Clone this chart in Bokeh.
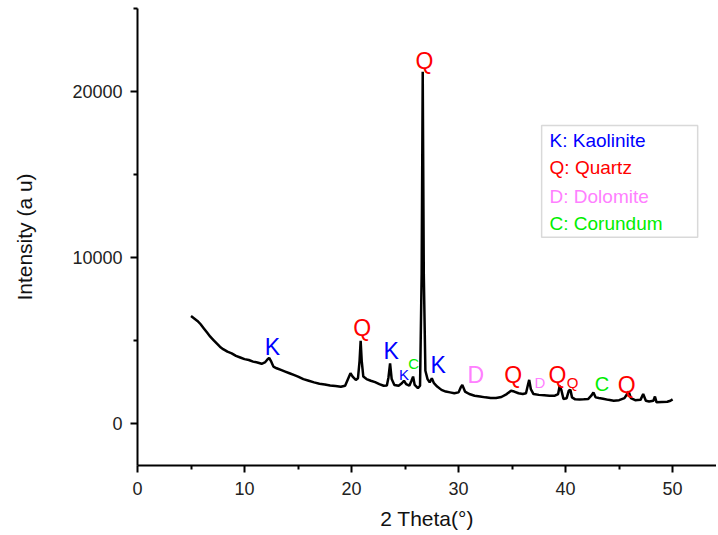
from bokeh.plotting import figure
from bokeh.models import ColumnDataSource, FixedTicker, BoxAnnotation, Label, Range1d
from bokeh.core.properties import value
from bokeh.embed import file_html
from bokeh.resources import INLINE

# XRD pattern (2 theta, intensity)
two_theta = [5.0, 5.3, 5.6, 5.9, 6.2, 6.5, 6.8, 7.1, 7.4, 7.7, 8.0, 8.4, 8.8, 9.2, 9.6,
             10.0, 10.4, 10.8, 11.2, 11.6, 11.9, 12.1, 12.3, 12.5, 12.7, 13.0, 13.4, 13.8,
             14.2, 14.6, 15.0, 15.5, 16.0, 16.5, 17.0, 17.5, 18.0, 18.5, 19.0, 19.4, 19.7,
             19.9, 20.1, 20.4, 20.6, 20.75, 20.85, 20.95, 21.1, 21.4, 21.8, 22.2, 22.6,
             23.0, 23.3, 23.45, 23.6, 23.75, 24.0, 24.4, 24.7, 24.9, 25.1, 25.4, 25.6,
             25.75, 25.9, 26.2, 26.4, 26.55, 26.65, 26.75, 26.9, 27.1, 27.3, 27.5, 27.7,
             28.0, 28.4, 28.8, 29.2, 29.6, 30.0, 30.2, 30.35, 30.6, 31.0, 31.5, 32.0,
             32.5, 33.0, 33.5, 34.0, 34.5, 34.9, 35.2, 35.6, 36.0, 36.3, 36.5, 36.6,
             36.75, 37.0, 37.5, 38.0, 38.5, 39.0, 39.3, 39.45, 39.6, 39.8, 40.1, 40.3,
             40.45, 40.6, 40.9, 41.3, 41.7, 42.1, 42.4, 42.6, 42.8, 43.1, 43.5, 44.0,
             44.5, 45.0, 45.5, 45.75, 45.9, 46.1, 46.5, 47.0, 47.25, 47.5, 47.8, 48.2,
             48.35, 48.5, 49.0, 49.5, 49.8, 50.0]
intensity = [6500, 6350, 6200, 6000, 5750, 5500, 5250, 5050, 4850, 4650, 4500, 4350, 4250,
             4100, 4000, 3900, 3850, 3750, 3700, 3620, 3700, 3850, 3980, 3750, 3450, 3350,
             3250, 3150, 3050, 2950, 2850, 2700, 2600, 2500, 2420, 2380, 2320, 2280, 2240,
             2300, 2750, 3050, 2850, 2650, 2750, 3800, 5000, 3800, 2850, 2700, 2600, 2520,
             2400, 2300, 2320, 2800, 3650, 2700, 2350, 2300, 2450, 2600, 2400, 2300, 2600,
             2850, 2350, 2150, 2300, 9000, 21200, 9000, 3200, 2700, 2500, 2750, 2450, 2250,
             2050, 1950, 1900, 1850, 1900, 2200, 2350, 1950, 1800, 1700, 1650, 1600, 1560,
             1560, 1620, 1800, 2000, 1950, 1850, 1800, 1850, 2400, 2650, 2100, 1800, 1750,
             1730, 1700, 1700, 1800, 2300, 2050, 1500, 1550, 2000, 2050, 1600, 1480, 1470,
             1480, 1500, 1700, 1900, 1600, 1560, 1520, 1450, 1400, 1430, 1550, 1800, 1950,
             1550, 1430, 1450, 1800, 1400, 1350, 1400, 1650, 1300, 1320, 1340, 1400, 1480]

# Phase markers
mark_x = [12.6, 21.0, 23.7, 24.9, 25.8, 26.8, 28.1, 31.6, 35.1, 37.6, 39.25, 40.65, 43.4, 45.7]
mark_y = [4625, 5765, 4385, 3000, 3660, 21860, 3540, 2940, 2940, 2520, 2940, 2520, 2400, 2340]
mark_text = ["K", "Q", "K", "K", "C", "Q", "K", "D", "Q", "D", "Q", "Q", "C", "Q"]
mark_big = [True, True, True, False, False, True, True, True, True, False, True, False, True, True]

phase_colors = {"K": "#0000ff", "Q": "#ff0000", "D": "#ff80ff", "C": "#00ee00"}
legend_items = ["K: Kaolinite", "Q: Quartz", "D: Dolomite", "C: Corundum"]

x_ticks = [0, 10, 20, 30, 40, 50]
y_ticks = [0, 10000, 20000]

FONT = "Liberation Sans"

p = figure(width=716, height=535, output_backend="svg", toolbar_location=None,
           x_range=Range1d(0, 54.1), y_range=Range1d(-2500, 25000),
           min_border_left=137, min_border_right=0, min_border_top=8, min_border_bottom=70)
p.outline_line_color = None
p.grid.visible = False

p.line(two_theta, intensity, line_color="black", line_width=2.5)

sizes = []
for t, big in zip(mark_text, mark_big):
    if big:
        sizes.append("23px" if t != "C" else "20px")
    else:
        sizes.append("15px")
src = ColumnDataSource(dict(x=mark_x, y=mark_y, text=mark_text,
                            color=[phase_colors[t] for t in mark_text], size=sizes))
p.text(x="x", y="y", text="text", text_color="color", text_font_size="size",
       text_align="center", text_baseline="middle", text_font=value(FONT), source=src)

# Legend box
p.add_layout(BoxAnnotation(left=37.76, right=52.34, top=17958, bottom=11231,
                           fill_color="white", fill_alpha=1.0,
                           line_color="#808080", line_width=1.5, level="overlay"))
leg_y = [17057, 15435, 13694, 12072]
for txt, yy in zip(legend_items, leg_y):
    p.add_layout(Label(x=38.5, y=yy, text=txt, text_color=phase_colors[txt[0]],
                       text_font_size="19px", text_font=FONT, text_baseline="middle",
                       level="overlay"))

for ax in (p.xaxis[0], p.yaxis[0]):
    ax.axis_line_width = 2
    ax.axis_line_color = "black"
    ax.major_tick_line_width = 2
    ax.minor_tick_line_width = 2
    ax.major_tick_out = 7
    ax.major_tick_in = 0
    ax.minor_tick_out = 4
    ax.minor_tick_in = 0
    ax.major_label_text_font = FONT
    ax.major_label_text_font_size = "18px"
    ax.major_label_text_color = "#222222"
    ax.axis_label_text_font = FONT
    ax.axis_label_text_font_size = "21px"
    ax.axis_label_text_font_style = "normal"
    ax.axis_label_text_color = "#111111"

p.xaxis.ticker = FixedTicker(ticks=x_ticks, minor_ticks=[5, 15, 25, 35, 45])
p.yaxis.ticker = FixedTicker(ticks=y_ticks, minor_ticks=[-5000, 5000, 15000, 25000])
p.xaxis.axis_label = "2 Theta(°)"
p.yaxis.axis_label = "Intensity (a u)"
p.xaxis.major_label_standoff = 9
p.xaxis.axis_label_standoff = 9
p.yaxis.major_label_standoff = 8
p.yaxis.axis_label_standoff = 33

open("out.html", "w").write(file_html(p, INLINE))
